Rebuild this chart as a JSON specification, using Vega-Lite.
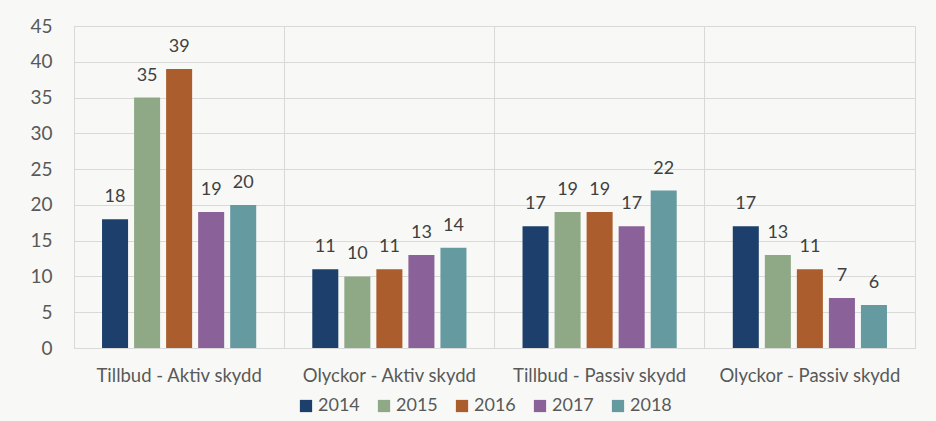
{
  "$schema": "https://vega.github.io/schema/vega-lite/v6.json",
  "width": 841,
  "height": 322,
  "autosize": "none",
  "padding": {"left": 74, "top": 26, "right": 21, "bottom": 73},
  "background": "#f8f9f7",
  "data": {"values": [
    {"cat": "Tillbud - Aktiv skydd", "year": "2014", "v": 18},
    {"cat": "Tillbud - Aktiv skydd", "year": "2015", "v": 35},
    {"cat": "Tillbud - Aktiv skydd", "year": "2016", "v": 39},
    {"cat": "Tillbud - Aktiv skydd", "year": "2017", "v": 19},
    {"cat": "Tillbud - Aktiv skydd", "year": "2018", "v": 20},
    {"cat": "Olyckor - Aktiv skydd", "year": "2014", "v": 11},
    {"cat": "Olyckor - Aktiv skydd", "year": "2015", "v": 10},
    {"cat": "Olyckor - Aktiv skydd", "year": "2016", "v": 11},
    {"cat": "Olyckor - Aktiv skydd", "year": "2017", "v": 13},
    {"cat": "Olyckor - Aktiv skydd", "year": "2018", "v": 14},
    {"cat": "Tillbud - Passiv skydd", "year": "2014", "v": 17},
    {"cat": "Tillbud - Passiv skydd", "year": "2015", "v": 19},
    {"cat": "Tillbud - Passiv skydd", "year": "2016", "v": 19},
    {"cat": "Tillbud - Passiv skydd", "year": "2017", "v": 17},
    {"cat": "Tillbud - Passiv skydd", "year": "2018", "v": 22},
    {"cat": "Olyckor - Passiv skydd", "year": "2014", "v": 17},
    {"cat": "Olyckor - Passiv skydd", "year": "2015", "v": 13},
    {"cat": "Olyckor - Passiv skydd", "year": "2016", "v": 11},
    {"cat": "Olyckor - Passiv skydd", "year": "2017", "v": 7},
    {"cat": "Olyckor - Passiv skydd", "year": "2018", "v": 6}
  ]},
  "encoding": {
    "x": {
      "field": "cat", "type": "nominal", "sort": null,
      "scale": {"paddingInner": 0, "paddingOuter": 0},
      "axis": {
        "title": null, "labelAngle": 0, "ticks": false, "domain": false,
        "grid": true, "bandPosition": 0, "gridColor": "#d9d9d9", "gridWidth": 1,
        "labelPadding": 18, "labelFontSize": 18.5, "labelColor": "#595959", "labelFont": "Lato",
        "labelLimit": 400
      }
    },
    "xOffset": {
      "field": "year", "type": "nominal",
      "scale": {"paddingInner": 0.1875, "paddingOuter": 0.875}
    },
    "y": {
      "field": "v", "type": "quantitative",
      "scale": {"domain": [0, 45]},
      "axis": {
        "title": null, "values": [0,5,10,15,20,25,30,35,40,45], "ticks": false, "domain": false,
        "gridColor": "#d9d9d9", "labelPadding": 22, "labelFontSize": 19,
        "labelColor": "#595959", "labelFont": "Lato"
      }
    }
  },
  "layer": [
    {
      "mark": {"type": "bar"},
      "encoding": {
        "color": {
          "field": "year", "type": "nominal",
          "scale": {"domain": ["2014","2015","2016","2017","2018"],
                    "range": ["#1d3f6b", "#8fa986", "#ab5d2d", "#8a6199", "#659aa0"]},
          "legend": {
            "title": null, "orient": "none", "direction": "horizontal",
            "legendX": 223, "legendY": 371,
            "symbolType": "square", "symbolSize": 150, "symbolStrokeWidth": 0,
            "labelFontSize": 18, "labelColor": "#595959", "labelFont": "Lato",
            "labelOffset": 3, "columnPadding": 15
          }
        }
      }
    },
    {
      "mark": {"type": "text", "dy": -22, "fontSize": 18, "color": "#404040", "font": "Lato"},
      "encoding": {"text": {"field": "v", "type": "quantitative"}}
    }
  ],
  "config": {
    "view": {"stroke": "#d9d9d9", "fill": "#f8f9f7"}
  }
}
